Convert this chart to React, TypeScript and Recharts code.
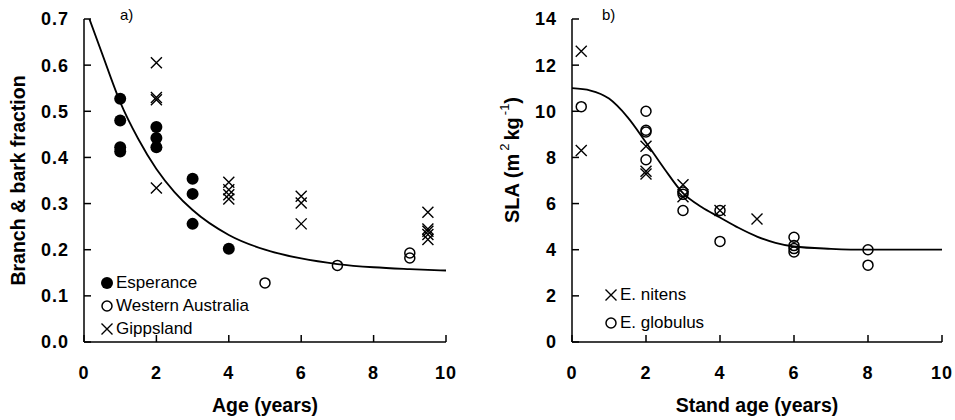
import React from 'react';
import { ComposedChart, Scatter, Line, XAxis, YAxis } from 'recharts';

// axis ticks
const ageTicks = [0, 2, 4, 6, 8, 10];
const fracTicks = [0, 0.1, 0.2, 0.3, 0.4, 0.5, 0.6, 0.7];
const slaTicks = [0, 2, 4, 6, 8, 10, 12, 14];

// panel a) branch & bark fraction
const esperanceAge = [1, 1, 1, 1, 2, 2, 2, 3, 3, 3, 4];
const esperanceFrac = [0.527, 0.48, 0.422, 0.413, 0.466, 0.442, 0.422, 0.354, 0.321, 0.256, 0.202];
const westernAge = [5, 7, 9, 9];
const westernFrac = [0.128, 0.166, 0.193, 0.182];
const gippslandAge = [2, 2, 2, 2, 4, 4, 4, 4, 6, 6, 6, 9.5, 9.5, 9.5, 9.5, 9.5];
const gippslandFrac = [0.605, 0.53, 0.525, 0.334, 0.346, 0.33, 0.319, 0.31, 0.316, 0.301, 0.256, 0.281, 0.245, 0.24, 0.233, 0.222];
const fracFitAge = [0.15, 0.5, 1, 1.5, 2, 2.5, 3, 4, 5, 6, 7, 8, 9, 10];
const fracFitValue = [0.7, 0.625, 0.52, 0.44, 0.375, 0.325, 0.286, 0.232, 0.2, 0.181, 0.169, 0.162, 0.158, 0.155];

// panel b) SLA
const nitensAge = [0.25, 0.25, 2, 2, 2, 3, 3, 4, 5];
const nitensSla = [12.6, 8.3, 8.48, 7.4, 7.28, 6.82, 6.3, 5.7, 5.33];
const globulusAge = [0.25, 2, 2, 2, 2, 3, 3, 3, 4, 4, 6, 6, 6, 6, 8, 8];
const globulusSla = [10.2, 10.0, 9.18, 9.1, 7.9, 6.5, 6.4, 5.7, 5.7, 4.36, 4.54, 4.18, 4.05, 3.9, 4.0, 3.33];
const slaFitAge = [0, 0.5, 1, 1.5, 2, 2.5, 3, 3.5, 4, 4.5, 5, 5.5, 6, 7, 8, 9, 10];
const slaFitValue = [11.0, 10.9, 10.55, 9.75, 8.65, 7.5, 6.45, 5.85, 5.4, 4.95, 4.57, 4.3, 4.14, 4.04, 4.0, 4.0, 4.0];

const zip = (xs: number[], ys: number[]) => xs.map((x, i) => ({ x, y: ys[i] }));

const FONT = 'Liberation Sans, Arial, sans-serif';

const FilledDot = (p: any) => <circle cx={p.cx} cy={p.cy} r={6} fill="#000" />;
const OpenDot = (p: any) => <circle cx={p.cx} cy={p.cy} r={5} fill="none" stroke="#000" strokeWidth={1.5} />;
const Cross = (p: any) => (
  <path
    d={`M${p.cx - 5.5},${p.cy - 5.5}L${p.cx + 5.5},${p.cy + 5.5}M${p.cx - 5.5},${p.cy + 5.5}L${p.cx + 5.5},${p.cy - 5.5}`}
    stroke="#000"
    strokeWidth={1.4}
  />
);

const tickStyle = { fill: '#000', fontSize: 18, fontWeight: 700, fontFamily: FONT, letterSpacing: 1 };
const axisLine = { stroke: '#000', strokeWidth: 1.5 };
const axisTitle = { fill: '#000', fontSize: 19.5, fontWeight: 700, fontFamily: FONT };

function LegendBox({ items, gap }: { items: { label: string; icon: string }[]; gap: number }) {
  return (
    <div style={{ fontFamily: FONT, fontSize: 17, lineHeight: `${gap}px` }}>
      {items.map(it => (
        <div key={it.label} style={{ display: 'flex', alignItems: 'center' }}>
          <svg width={14} height={14} style={{ marginRight: 2 }}>
            {it.icon === 'filled' && <circle cx={7} cy={7} r={6} fill="#000" />}
            {it.icon === 'open' && <circle cx={7} cy={7} r={5} fill="none" stroke="#000" strokeWidth={1.5} />}
            {it.icon === 'cross' && <path d="M1.5,1.5L12.5,12.5M1.5,12.5L12.5,1.5" stroke="#000" strokeWidth={1.4} />}
          </svg>
          <span>{it.label}</span>
        </div>
      ))}
    </div>
  );
}

const fracLabel = (props: any) => {
  const vb = props.viewBox;
  const cx = 18;
  const cy = vb.y + vb.height / 2;
  return (
    <text x={cx} y={cy} transform={`rotate(-90 ${cx} ${cy})`} textAnchor="middle" dominantBaseline="central"
      fill="#000" fontSize={19.5} fontWeight={700} fontFamily={FONT}>
      Branch &amp; bark fraction
    </text>
  );
};

const slaLabel = () => {
  const cx = 34;
  const cy = 160;
  return (
    <text x={cx} y={cy} transform={`rotate(-90 ${cx} ${cy})`} textAnchor="middle" dominantBaseline="central"
      fill="#000" fontSize={20} fontWeight={700} fontFamily={FONT}>
      SLA (m<tspan dx={3} dy={-8} fontSize={13} fontWeight={400}>2</tspan><tspan dx={3} dy={8}>kg</tspan>
      <tspan dx={2} dy={-8} fontSize={13} fontWeight={400}>-1</tspan><tspan dy={8}>)</tspan>
    </text>
  );
};

export default function App() {
  return (
    <div style={{ position: 'fixed', left: 0, top: 0, width: 955, height: 420, background: '#fff', fontFamily: FONT }}>
      {/* panel a */}
      <div style={{ position: 'absolute', left: 0, top: 0 }}>
        <ComposedChart width={478} height={420} margin={{ top: 19, right: 32, left: 24, bottom: 28 }}>
          <XAxis
            dataKey="x" type="number" domain={[0, 10]} ticks={ageTicks} allowDataOverflow
            axisLine={axisLine} tickLine={axisLine} tickSize={-7} tickMargin={31} height={50}
            tick={tickStyle}
            label={{ value: 'Age (years)', position: 'insideBottom', offset: -20, style: axisTitle }}
          />
          <YAxis
            dataKey="y" type="number" domain={[0, 0.7]} ticks={fracTicks} allowDataOverflow
            tickFormatter={(v: number) => v.toFixed(1)}
            axisLine={axisLine} tickLine={axisLine} tickSize={-7} tickMargin={22} width={60}
            tick={tickStyle} label={{ content: fracLabel }}
          />
          <Line data={zip(fracFitAge, fracFitValue)} dataKey="y" type="monotone" stroke="#000" strokeWidth={1.8}
            dot={false} activeDot={false} isAnimationActive={false} legendType="none" />
          <Scatter name="Esperance" data={zip(esperanceAge, esperanceFrac)} shape={FilledDot} isAnimationActive={false} />
          <Scatter name="Western Australia" data={zip(westernAge, westernFrac)} shape={OpenDot} isAnimationActive={false} />
          <Scatter name="Gippsland" data={zip(gippslandAge, gippslandFrac)} shape={Cross} isAnimationActive={false} />
        </ComposedChart>
        <div style={{ position: 'absolute', left: 100, top: 271 }}>
          <LegendBox gap={23} items={[
            { label: 'Esperance', icon: 'filled' },
            { label: 'Western Australia', icon: 'open' },
            { label: 'Gippsland', icon: 'cross' },
          ]} />
        </div>
        <div style={{ position: 'absolute', left: 120, top: 6, fontSize: 15 }}>a)</div>
      </div>

      {/* panel b */}
      <div style={{ position: 'absolute', left: 478, top: 0 }}>
        <ComposedChart width={477} height={420} margin={{ top: 19, right: 13, left: 34, bottom: 28 }}>
          <XAxis
            dataKey="x" type="number" domain={[0, 10]} ticks={ageTicks} allowDataOverflow
            axisLine={axisLine} tickLine={axisLine} tickSize={-7} tickMargin={31} height={50}
            tick={tickStyle}
            label={{ value: 'Stand age (years)', position: 'insideBottom', offset: -20, style: axisTitle }}
          />
          <YAxis
            dataKey="y" type="number" domain={[0, 14]} ticks={slaTicks} allowDataOverflow
            axisLine={axisLine} tickLine={axisLine} tickSize={-7} tickMargin={22} width={60}
            tick={tickStyle} label={{ content: slaLabel }}
          />
          <Line data={zip(slaFitAge, slaFitValue)} dataKey="y" type="monotone" stroke="#000" strokeWidth={1.8}
            dot={false} activeDot={false} isAnimationActive={false} legendType="none" />
          <Scatter name="E. nitens" data={zip(nitensAge, nitensSla)} shape={Cross} isAnimationActive={false} />
          <Scatter name="E. globulus" data={zip(globulusAge, globulusSla)} shape={OpenDot} isAnimationActive={false} />
        </ComposedChart>
        <div style={{ position: 'absolute', left: 126, top: 281 }}>
          <LegendBox gap={28} items={[
            { label: 'E. nitens', icon: 'cross' },
            { label: 'E. globulus', icon: 'open' },
          ]} />
        </div>
        <div style={{ position: 'absolute', left: 124, top: 6, fontSize: 15 }}>b)</div>
      </div>
    </div>
  );
}
